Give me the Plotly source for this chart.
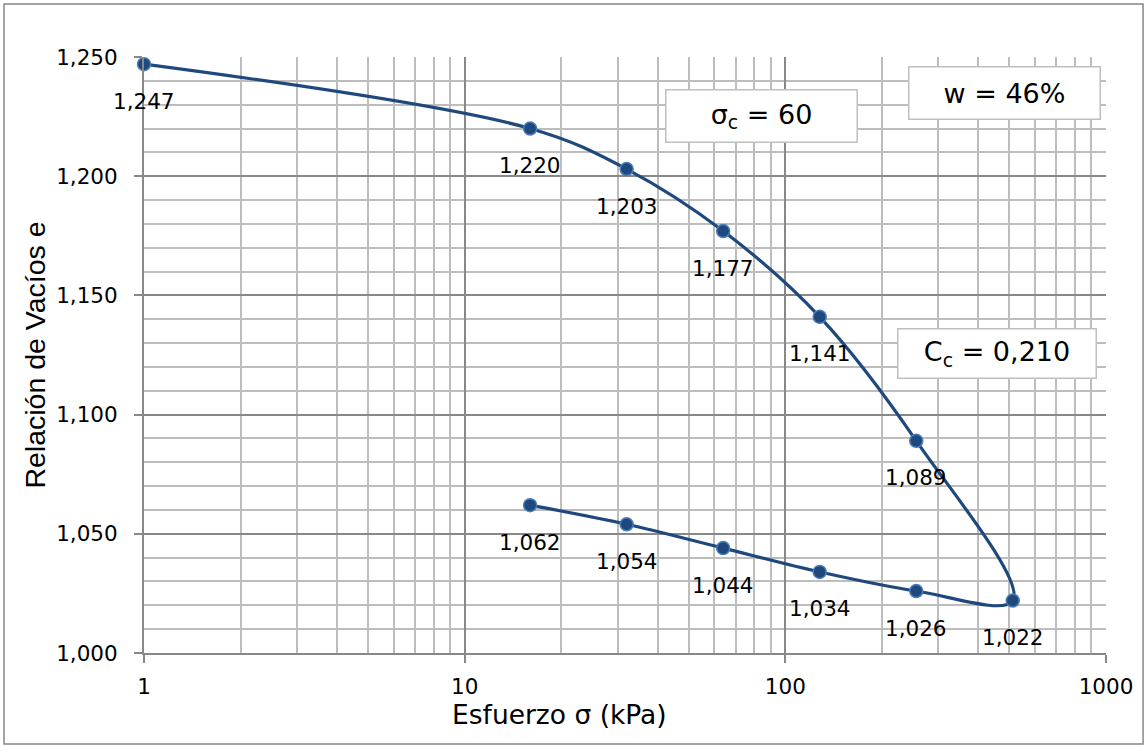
import math
import plotly.graph_objects as go

# Consolidation test: loading then unloading stages
stress_kpa = [1, 16, 32, 64, 128, 256, 512, 256, 128, 64, 32, 16]
void_ratio = [1.247, 1.220, 1.203, 1.177, 1.141, 1.089, 1.022,
              1.026, 1.034, 1.044, 1.054, 1.062]

x_tick_vals = [1, 10, 100, 1000]
x_tick_text = ["1", "10", "100", "1000"]
x_minor_vals = [m * d for d in (1, 10, 100) for m in range(2, 10)]
y_tick_vals = [1.000, 1.050, 1.100, 1.150, 1.200, 1.250]
y_tick_text = ["1,000", "1,050", "1,100", "1,150", "1,200", "1,250"]

info_boxes = [
    ("σ<sub>c</sub> = 60", 0.6414, 0.9018, 190, 51),
    ("w = 46%", 0.8940, 0.9404, 190, 51),
    ("C<sub>c</sub> = 0,210", 0.8872, 0.5017, 197, 48),
]

LINE = "#1F497D"
MAJOR = "#888888"
MINOR = "#BDBDBD"
SANS = "DejaVu Sans, Verdana, sans-serif"
TICK_FONT = dict(family=SANS, size=21.5, color="#000000")

fig = go.Figure()
fig.add_trace(go.Scatter(
    x=stress_kpa, y=void_ratio, mode="lines+markers",
    line=dict(color=LINE, width=3.2, shape="spline", smoothing=1),
    marker=dict(size=13, color=LINE, line=dict(color="#4A7EBB", width=1.5)),
    cliponaxis=False, hoverinfo="x+y", showlegend=False,
))

annotations = []
for xv, yv in zip(stress_kpa, void_ratio):
    annotations.append(dict(
        x=math.log10(xv), y=yv, xref="x", yref="y",
        xanchor="center", yanchor="middle",
        text=f"{yv:.3f}".replace(".", ","), showarrow=False, yshift=-37,
        font=TICK_FONT,
    ))

for txt, px, py, w, h in info_boxes:
    annotations.append(dict(
        x=px, y=py, xref="paper", yref="paper", xanchor="center", yanchor="middle",
        text=txt, showarrow=False, width=w, height=h, align="center", valign="middle",
        bgcolor="#FFFFFF", bordercolor="#BFBFBF", borderwidth=1.5, borderpad=0,
        font=dict(family=SANS, size=27, color="#000000"),
    ))

annotations.append(dict(
    x=0.4324, y=-0.104, xref="paper", yref="paper", xanchor="center", yanchor="middle",
    text="Esfuerzo σ (kPa)", showarrow=False,
    font=dict(family=SANS, size=26.5, color="#000000"),
))
annotations.append(dict(
    x=-0.1133, y=0.499, xref="paper", yref="paper", xanchor="center", yanchor="middle",
    text="Relación de Vacíos e", showarrow=False, textangle=-90,
    font=dict(family="Liberation Sans, Arial, sans-serif", size=28.5, color="#000000"),
))

fig.update_layout(
    width=1147, height=745,
    margin=dict(l=144, r=41, t=57, b=92),
    paper_bgcolor="#FFFFFF", plot_bgcolor="#FFFFFF",
    annotations=annotations,
    shapes=[dict(
        type="rect", xref="paper", yref="paper",
        x0=-0.1455, x1=1.0385, y0=-0.1527, y1=1.0889,
        line=dict(color="#878787", width=1.5), fillcolor="rgba(0,0,0,0)", layer="below",
    )],
)

fig.update_xaxes(
    type="log", range=[0, 3],
    tickmode="array", tickvals=x_tick_vals, ticktext=x_tick_text,
    ticks="outside", ticklen=8, tickcolor=MAJOR, tickwidth=1.5,
    showgrid=True, gridcolor=MAJOR, gridwidth=1.5,
    minor=dict(tickmode="array", tickvals=x_minor_vals, showgrid=True,
               gridcolor=MINOR, gridwidth=1.5, ticks=""),
    showline=True, linecolor=MAJOR, linewidth=2,
    tickfont=TICK_FONT, ticklabelstandoff=5, zeroline=False,
)
fig.update_yaxes(
    range=[1.0, 1.25],
    tickmode="array", tickvals=y_tick_vals, ticktext=y_tick_text,
    ticks="outside", ticklen=8, tickcolor=MAJOR, tickwidth=1.5,
    showgrid=True, gridcolor=MAJOR, gridwidth=1.5,
    minor=dict(dtick=0.01, showgrid=True, gridcolor=MINOR, gridwidth=1.5, ticks=""),
    showline=True, linecolor=MAJOR, linewidth=2,
    tickfont=TICK_FONT, ticklabelstandoff=12, zeroline=False,
)

fig.write_html("out.html")
